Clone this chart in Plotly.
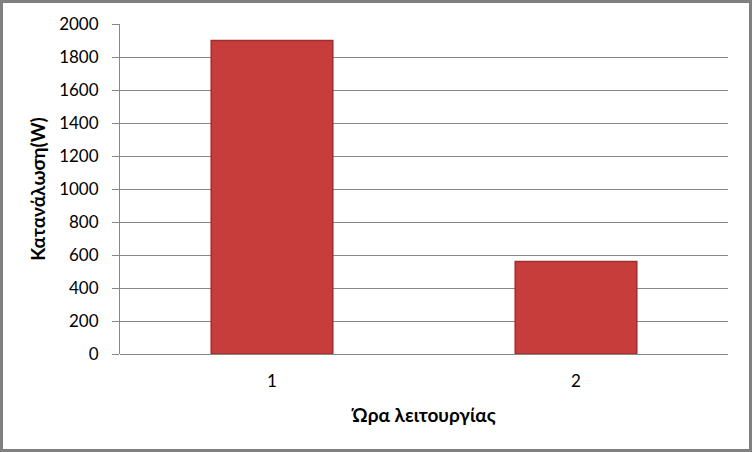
import plotly.graph_objects as go

hours = ["1", "2"]
consumption = [1900, 560]
y_ticks = list(range(0, 2001, 200))

fig = go.Figure(go.Bar(
    x=hours, y=consumption, width=0.4,
    marker=dict(color="#c63d3c", line=dict(color="#a02e2d", width=1.5)),
))

fig.update_layout(
    width=752, height=452,
    margin=dict(l=120, r=24, t=24, b=98),
    paper_bgcolor="white", plot_bgcolor="white",
    font=dict(family="Lato, Calibri, sans-serif", size=17, color="#000000"),
    showlegend=False,
    xaxis=dict(
        title=dict(text="<b>Ώρα λειτουργίας</b>", standoff=18, font=dict(size=19)),
        showline=False, showgrid=False, ticks="", ticklabelstandoff=15,
    ),
    yaxis=dict(
        title=dict(text="<b>Κατανάλωση(W)</b>", standoff=8, font=dict(size=19)),
        range=[0, 2000], tickvals=y_ticks,
        showgrid=True, gridcolor="#878787", gridwidth=1,
        showline=True, linecolor="#878787", linewidth=1,
        ticks="outside", tickcolor="#878787", ticklen=7, ticklabelstandoff=10,
        zeroline=True, zerolinecolor="#878787", zerolinewidth=1,
    ),
    shapes=[dict(
        type="rect", xref="paper", yref="paper",
        x0=(1.5 - 120) / 608, x1=(750.5 - 120) / 608,
        y0=(354 - 450.5) / 330, y1=(354 - 1.5) / 330,
        line=dict(color="#808080", width=3), fillcolor="rgba(0,0,0,0)",
        layer="above",
    )],
)

fig.write_html("out.html", config={"displayModeBar": False},
               post_script="document.body.style.margin='0';")
